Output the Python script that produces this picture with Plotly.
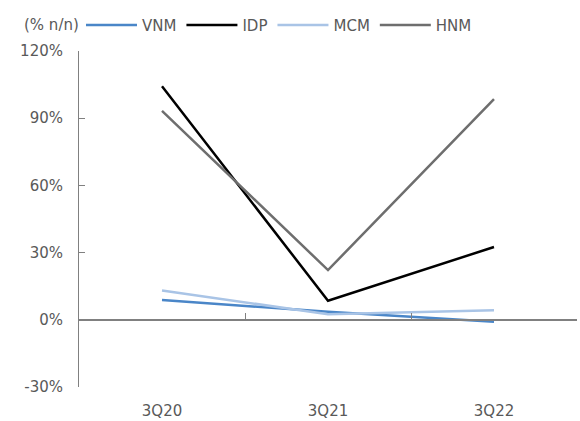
import plotly.graph_objects as go

categories = ["3Q20", "3Q21", "3Q22"]
vnm = [8.8, 3.6, -0.9]
idp = [104.3, 8.5, 32.5]
mcm = [13.1, 2.5, 4.3]
hnm = [93.3, 22.2, 98.5]
y_ticks = [-30, 0, 30, 60, 90, 120]
y_tick_text = [f"{v}%" for v in y_ticks]

series = [
    ("VNM", vnm, "#4A86C8"),
    ("IDP", idp, "#000000"),
    ("MCM", mcm, "#A9C4E6"),
    ("HNM", hnm, "#6E6E6E"),
]

FONT = "DejaVu Sans"
TXT = "#595959"
AX = "#808080"

fig = go.Figure()
for name, vals, col in series:
    fig.add_trace(go.Scatter(x=categories, y=vals, name=name, mode="lines",
                             line=dict(color=col, width=2.5)))

# helper trace for the zero-crossing category axis
fig.add_trace(go.Scatter(x=categories, y=[None, None, None], xaxis="x2", yaxis="y",
                         showlegend=False, hoverinfo="skip", mode="lines"))

fig.update_layout(
    width=580, height=421,
    margin=dict(l=79, r=3, t=51, b=34),
    paper_bgcolor="white", plot_bgcolor="white",
    font=dict(family=FONT, size=15, color=TXT),
    showlegend=True,
    legend=dict(orientation="h", x=0.004, xanchor="left", y=1.077, yanchor="middle",
                font=dict(family=FONT, size=15, color=TXT), itemwidth=51,
                bgcolor="rgba(0,0,0,0)", tracegroupgap=0),
    xaxis=dict(type="category", categoryorder="array", categoryarray=categories,
               range=[-0.5, 2.5], showline=False, showgrid=False, zeroline=False,
               ticks="outside", ticklen=10, tickcolor="rgba(0,0,0,0)",
               automargin=False,
               tickfont=dict(family=FONT, size=15, color=TXT)),
    xaxis2=dict(type="category", categoryorder="array", categoryarray=categories,
                range=[-0.5, 2.5], overlaying="x", anchor="free", position=0.2,
                showline=True, linecolor=AX, linewidth=1.5, showgrid=False,
                zeroline=False, showticklabels=False, ticks="inside",
                tickson="boundaries", ticklen=6, tickcolor=AX, tickwidth=1,
                automargin=False),
    yaxis=dict(range=[-30, 120], tickvals=y_ticks, ticktext=y_tick_text,
               showline=True, linecolor=AX, linewidth=1, showgrid=False,
               zeroline=False, ticks="inside", ticklen=6, tickcolor=AX,
               ticklabelstandoff=12, automargin=False,
               tickfont=dict(family=FONT, size=15, color=TXT)),
    annotations=[dict(text="(% n/n)", xref="paper", yref="paper", x=-0.115, y=1.077,
                      xanchor="left", yanchor="middle", showarrow=False,
                      font=dict(family=FONT, size=15, color=TXT))],
)

fig.write_html("out.html", config={"displayModeBar": False},
               post_script="document.body.style.margin='0';")
